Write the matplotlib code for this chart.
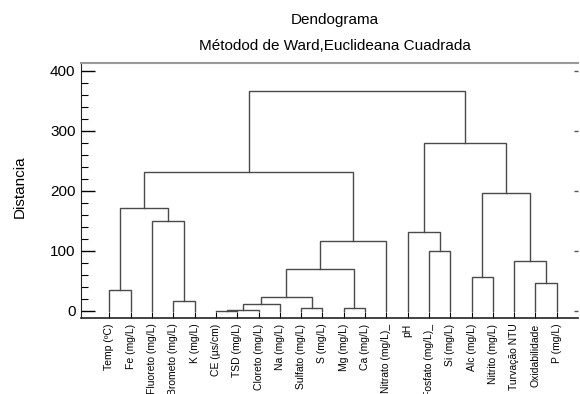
import matplotlib
matplotlib.use('Agg')
import matplotlib.pyplot as plt
from matplotlib.ticker import MultipleLocator

plt.rcParams['font.family'] = ['Liberation Sans', 'DejaVu Sans']

# folhas na ordem do dendrograma
labels = ['Temp (ºC)', 'Fe (mg/L)', 'Fluoreto (mg/L)', 'Brometo (mg/L)', 'K (mg/L)',
          'CE (µs/cm)', 'TSD (mg/L)', 'Cloreto (mg/L)', 'Na (mg/L)', 'Sulfato (mg/L)',
          'S (mg/L)', 'Mg (mg/L)', 'Ca (mg/L)', 'Nitrato (mg/L)_', 'pH',
          'Fosfato (mg/L)_', 'Si (mg/L)', 'Alc (mg/L)', 'Nitrito (mg/L)', 'Turvação NTU',
          'Oxidabilidade', 'P (mg/L)']

# fusões (estilo linkage): grupo A, grupo B, distância; novos grupos a partir de 22
merge_a = [5, 22, 9, 11, 23, 3, 26, 0, 20, 17, 28, 19, 15, 32, 14, 2, 29, 31, 38, 36, 40]
merge_b = [6, 7, 10, 12, 8, 4, 24, 1, 21, 18, 25, 30, 16, 13, 34, 27, 37, 33, 35, 39, 41]
merge_h = [0.4, 1.8, 4.5, 5.5, 12, 17, 24, 35, 47, 57, 69.5, 84, 100, 116, 132, 150, 172,
           196, 231, 280, 366]

fig = plt.figure(figsize=(5.8, 3.94), dpi=100)
ax = fig.add_axes([0.1397, 0.193, 0.857, 0.647])

pos = {i: (float(i), 0.0) for i in range(len(labels))}
n = len(labels)
for k, (a, b, h) in enumerate(zip(merge_a, merge_b, merge_h)):
    xa, ya = pos[a]
    xb, yb = pos[b]
    ax.plot([xa, xa, xb, xb], [ya, h, h, yb], color='#4a4a4a', lw=1.0,
            solid_joinstyle='miter')
    pos[n + k] = ((xa + xb) / 2, h)

ax.set_xlim(-1.33, 22.0)
ax.set_ylim(-11.7, 413)
ax.set_xticks(range(n))
ax.set_xticklabels(labels, rotation=90, fontsize=7.5, va='top')
ax.yaxis.set_major_locator(MultipleLocator(100))
ax.yaxis.set_minor_locator(MultipleLocator(20))
ax.tick_params(axis='y', which='major', direction='in', length=10, width=1,
               labelsize=11, pad=4)
ax.tick_params(axis='y', which='minor', direction='in', length=5, width=0.8)
ax.tick_params(axis='x', direction='in', length=4, width=0.8, pad=4)
ax.spines['right'].set_visible(False)
ax.spines['top'].set_color('#999999')
ax.spines['top'].set_linewidth(1.5)
ax.spines['left'].set_color('#222222')
ax.spines['bottom'].set_color('#222222')
ax.spines['bottom'].set_linewidth(1.2)

# marcas curtas do lado direito
ax2 = ax.twinx()
ax2.set_ylim(ax.get_ylim())
ax2.yaxis.set_major_locator(MultipleLocator(100))
ax2.tick_params(axis='y', direction='in', length=3, width=1, labelright=False,
                color='#555555')
for s in ax2.spines.values():
    s.set_visible(False)

ax.set_ylabel('Distancia', fontsize=11)
ax.yaxis.set_label_coords(-0.11, 0.516)

fig.text(0.577, 0.95, 'Dendograma', ha='center', va='center', fontsize=11)
fig.text(0.577, 0.883, 'Métodod de Ward,Euclideana Cuadrada', ha='center', va='center',
         fontsize=11)

fig.savefig('out.png', dpi=100)
